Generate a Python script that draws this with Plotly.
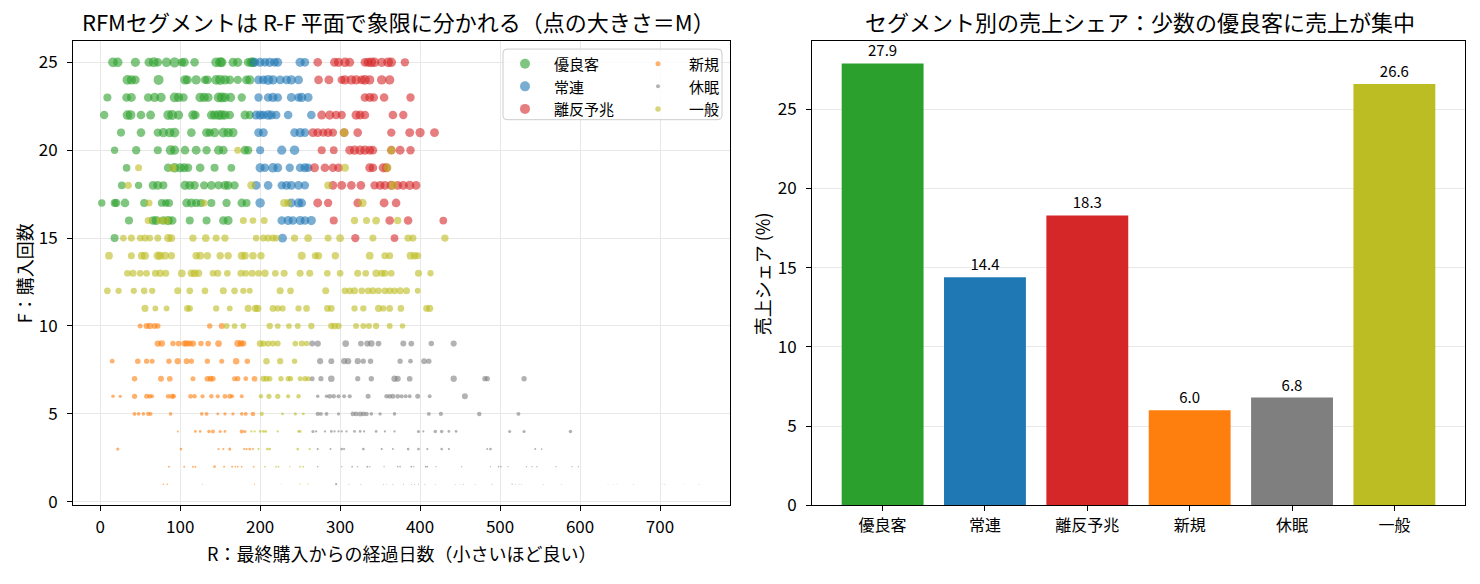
import plotly.graph_objects as go

W, H = 1480, 584
FONT = "Noto Sans CJK JP"

# ---------------- data ----------------
segments = ["優良客", "常連", "離反予兆", "新規", "休眠", "一般"]
seg_colors = ["#2ca02c", "#1f77b4", "#d62728", "#ff7f0e", "#7f7f7f", "#bcbd22"]
sales_share = [27.9, 14.4, 18.3, 6.0, 6.8, 26.6]   # 売上シェア (%)

x_ticks = [0, 100, 200, 300, 400, 500, 600, 700]
y_ticks = [0, 5, 10, 15, 20, 25]
bar_y_ticks = [0, 5, 10, 15, 20, 25]

# R (days since last purchase) by F (purchase count); M = sales (千円)
yuryo_R = {
    25: [16, 22, 44, 61, 67, 72, 83, 93, 102, 105, 118, 145, 150, 152, 166, 172, 185, 189, 191],
    24: [34, 39, 44, 73, 106, 109, 120, 131, 134, 145, 150, 156, 162, 172, 183, 187],
    23: [9, 33, 39, 60, 68, 76, 93, 98, 104, 125, 130, 135, 148, 152, 156, 163, 177],
    22: [5, 34, 38, 51, 63, 85, 90, 98, 116, 119, 139, 143, 148, 152, 156, 162, 181, 187],
    21: [26, 51, 72, 79, 87, 93, 114, 133, 137, 143, 154, 160, 166],
    20: [18, 45, 72, 88, 93, 106, 120, 133, 148, 154, 181, 185],
    19: [33, 85, 93, 100, 105, 110, 125, 143, 164],
    18: [27, 48, 66, 72, 79, 106, 112, 118, 130, 139, 148, 156, 160, 168],
    17: [2, 18, 20, 31, 55, 77, 82, 86, 108, 114, 120, 126, 139, 158, 177, 183],
    16: [36, 66, 70, 79, 85, 90, 112, 133, 154, 160],
    15: [18],
}
yuryo_M = {
    25: [380, 360, 340, 320, 400, 300, 360, 420, 280, 340, 300, 380, 400, 360, 320, 340, 300, 380, 360],
    24: [380, 340, 300, 400, 360, 320, 340, 280, 320, 380, 400, 360, 300, 280, 320, 340],
    23: [260, 300, 320, 300, 340, 360, 380, 340, 300, 360, 340, 320, 380, 400, 360, 340, 280],
    22: [280, 360, 380, 300, 320, 380, 400, 340, 360, 300, 320, 340, 380, 360, 340, 300, 320, 280],
    21: [260, 300, 280, 340, 360, 380, 300, 320, 280, 340, 380, 360, 340],
    20: [220, 280, 260, 380, 340, 300, 320, 280, 340, 300, 300, 280],
    19: [240, 300, 360, 340, 320, 280, 300, 260, 240],
    18: [240, 220, 300, 320, 260, 340, 320, 300, 280, 300, 260, 320, 300, 280],
    17: [220, 240, 280, 300, 260, 240, 220, 260, 300, 320, 280, 260, 260, 280, 300, 260],
    16: [260, 300, 320, 300, 340, 300, 260, 260, 300, 320],
    15: [260],
}

joren_R = {
    25: [193, 200, 206, 212, 218, 222, 250, 256],
    24: [198, 204, 210, 216, 225, 233, 239, 248],
    23: [198, 210, 216, 222, 239, 248, 252, 260],
    22: [195, 200, 204, 210, 214, 220, 235, 264],
    21: [198, 204, 243, 250, 256],
    20: [200, 227, 243],
    19: [200, 206, 216, 222, 237, 250, 256, 260],
    18: [195, 210, 227, 233, 239, 248, 256],
    17: [200, 239, 248, 252],
    16: [227, 235, 241, 250, 256, 264],
    15: [228],
}
joren_M = {
    25: [340, 320, 300, 340, 300, 320, 340, 300],
    24: [300, 320, 400, 340, 320, 300, 340, 320],
    23: [280, 300, 340, 300, 320, 300, 340, 320],
    22: [320, 340, 300, 360, 320, 300, 300, 300],
    21: [300, 320, 300, 340, 300],
    20: [260, 340, 360],
    19: [340, 300, 360, 320, 280, 300, 320, 300],
    18: [320, 300, 280, 300, 320, 300, 280],
    17: [360, 320, 340, 300],
    16: [300, 320, 300, 320, 300, 340],
    15: [320],
}

rihan_R = {
    25: [272, 293, 298, 306, 312, 331, 335, 339, 343, 352, 360, 364, 381],
    24: [273, 286, 302, 306, 314, 320, 327, 331, 337, 352, 362],
    23: [331, 337, 342, 355, 388],
    22: [277, 287, 295, 302, 320, 325, 331, 366, 379],
    21: [266, 272, 279, 285, 291, 305, 322, 364, 387, 400, 418],
    20: [277, 292, 312, 318, 325, 331, 337, 341, 364, 375, 388],
    19: [268, 281, 291, 298, 337, 341, 354, 358],
    18: [291, 302, 314, 326, 343, 350, 356, 364, 372, 379, 387, 395],
    17: [272, 285, 322, 355, 370],
    16: [292, 362, 385, 429],
    15: [319, 368],
}
rihan_M = {
    25: [300, 320, 340, 360, 320, 300, 340, 380, 360, 340, 380, 360, 280],
    24: [300, 320, 280, 340, 360, 340, 320, 380, 340, 360, 340],
    23: [300, 320, 300, 300, 280],
    22: [320, 340, 300, 280, 340, 320, 300, 300, 280],
    21: [320, 300, 280, 300, 280, 320, 300, 280, 320, 340, 320],
    20: [260, 240, 320, 340, 360, 340, 320, 300, 300, 320, 280],
    19: [320, 300, 280, 300, 320, 300, 340, 320],
    18: [300, 320, 300, 300, 280, 300, 320, 340, 300, 320, 340, 300],
    17: [320, 280, 300, 320, 300],
    16: [260, 300, 300, 240],
    15: [280, 240],
}

shinki_R = {
    10: [50, 58, 62, 68, 72, 137, 152],
    9: [72, 77, 91, 98, 105, 108, 112, 116, 126, 135, 148, 172, 176, 179],
    8: [15, 47, 58, 65, 86, 97, 108, 114, 134, 152, 170, 184],
    7: [43, 76, 87, 116, 134, 138, 141, 168, 172, 182, 193],
    6: [16, 25, 43, 58, 62, 65, 85, 90, 92, 113, 118, 128, 139, 147, 156, 162, 165, 177],
    5: [43, 48, 54, 60, 63, 88, 127, 133, 147, 156, 166, 177, 182, 191],
    4: [97, 119, 125, 136, 141, 150, 156, 177, 181],
    3: [22, 101, 148, 154, 162, 180, 183, 187, 191],
    2: [86, 105, 116, 119, 143, 155, 165, 169, 172, 177, 192],
    1: [79, 84, 128, 193],
}
shinki_M = {
    10: [100, 150, 160, 140, 120, 120, 150],
    9: [160, 170, 120, 130, 140, 170, 150, 160, 120, 130, 180, 190, 170, 140],
    8: [90, 120, 110, 100, 120, 160, 130, 110, 110, 100, 170, 120],
    7: [120, 140, 130, 100, 130, 140, 120, 100, 110, 90, 130],
    6: [50, 40, 110, 100, 90, 60, 90, 110, 80, 90, 80, 70, 80, 70, 90, 100, 60, 60],
    5: [60, 50, 50, 70, 60, 50, 50, 60, 30, 40, 40, 50, 60, 80],
    4: [16, 30, 30, 50, 60, 40, 30, 70, 40],
    3: [40, 30, 20, 20, 40, 20, 20, 30, 20],
    2: [16, 16, 16, 16, 30, 16, 16, 12, 12, 12, 12],
    1: [10, 10, 4, 6],
}

kyumin_R = {
    9: [265, 272, 307, 326, 334, 339, 348, 379, 389, 414, 442],
    8: [275, 289, 305, 310, 322, 329, 338, 375, 388, 405, 411],
    7: [265, 276, 289, 322, 339, 368, 372, 387, 442, 481, 484, 530],
    6: [272, 283, 287, 292, 298, 305, 312, 335, 358, 362, 366, 372, 377, 382, 387, 397, 412, 456],
    5: [272, 276, 283, 298, 316, 320, 325, 329, 333, 339, 350, 368, 411, 426, 474, 523],
    4: [266, 270, 281, 289, 293, 298, 302, 308, 318, 325, 330, 345, 356, 368, 398, 404, 419, 427,
        436, 445, 512, 530, 588],
    3: [272, 288, 302, 305, 329, 352, 366, 385, 398, 409, 427, 436, 484, 488, 544, 552],
    2: [272, 302, 315, 322, 334, 337, 355, 372, 375, 389, 392, 407, 409, 420, 452, 488, 498, 501,
        510, 533, 540, 546, 570, 590, 598],
    1: [295, 311, 326, 354, 358, 366, 379, 389, 393, 398, 406, 419, 444, 450, 454, 469, 490, 515,
        519, 524, 527, 554, 577, 635, 642, 647, 667, 703, 706, 730, 749],
}
kyumin_M = {
    9: [140, 160, 180, 130, 150, 170, 130, 140, 130, 120, 150],
    8: [150, 140, 150, 160, 150, 110, 120, 110, 90, 140, 110],
    7: [100, 110, 170, 110, 120, 160, 150, 130, 160, 110, 110, 120],
    6: [50, 50, 90, 80, 70, 60, 70, 100, 80, 90, 100, 90, 70, 60, 60, 100, 60, 140],
    5: [70, 60, 60, 40, 90, 90, 100, 90, 80, 50, 40, 50, 60, 70, 80, 60],
    4: [40, 20, 20, 30, 20, 20, 20, 20, 30, 30, 20, 30, 20, 20, 40, 20, 50, 50,
        30, 30, 40, 40, 50],
    3: [20, 16, 30, 20, 30, 20, 16, 30, 30, 20, 30, 20, 16, 30, 16, 12],
    2: [10, 8, 12, 8, 16, 8, 8, 10, 10, 12, 8, 12, 12, 8, 8, 6, 10, 10,
        6, 8, 8, 8, 8, 8, 6],
    1: [20, 4, 4, 4, 3, 4, 4, 4, 4, 4, 4, 3, 3, 3, 4, 3, 4, 6,
        3, 3, 3, 3, 3, 2, 2, 2, 3, 2, 3, 2, 3],
}

ippan_R = {
    21: [305],
    20: [172, 364],
    19: [48, 91, 306, 359],
    18: [35, 189, 285, 366],
    17: [61, 130, 230, 235, 328],
    16: [60, 75, 83, 179, 191, 205, 318, 333, 345, 372],
    15: [29, 39, 50, 56, 62, 72, 85, 89, 116, 132, 145, 156, 195, 204, 210, 216, 220, 243, 260,
         285, 300, 341, 385, 391, 431],
    14: [11, 39, 52, 56, 72, 75, 81, 89, 120, 125, 134, 150, 160, 177, 181, 191, 201, 252, 269,
         273, 294, 337, 356, 362, 388, 393, 397],
    13: [34, 41, 50, 58, 69, 75, 82, 102, 114, 118, 123, 141, 147, 159, 176, 182, 190, 198, 206,
         219, 230, 250, 262, 284, 300, 322, 332, 345, 352, 356, 364, 398, 413],
    12: [9, 23, 42, 55, 65, 97, 112, 131, 154, 168, 179, 187, 225, 238, 282, 306, 312, 318, 327,
         335, 341, 348, 356, 362, 368, 375, 383, 397],
    11: [56, 69, 83, 109, 112, 145, 162, 185, 194, 197, 216, 222, 228, 248, 258, 284, 289, 318,
         329, 348, 354, 362, 376, 408, 412],
    10: [158, 168, 179, 212, 222, 236, 247, 264, 289, 293, 298, 320, 329, 336, 345, 362, 378],
    9: [200, 204, 210, 216, 222, 244, 252, 258],
    8: [208, 225, 243],
    7: [204, 208, 212, 226, 235, 238, 250, 256, 260],
    6: [201, 211, 222, 235, 248],
    5: [202, 228, 244, 254],
    4: [189, 193, 200, 204, 207, 222, 248, 250],
    3: [198, 209, 212, 247, 262],
    2: [206, 220, 223, 237, 250, 254],
    1: [226, 250, 260],
}
ippan_M = {
    21: [300],
    20: [200, 260],
    19: [200, 240, 260, 280],
    18: [220, 260, 240, 300],
    17: [200, 200, 260, 240, 280],
    16: [200, 220, 240, 200, 180, 200, 220, 200, 240, 220],
    15: [180, 200, 180, 200, 180, 200, 260, 240, 220, 240, 200, 220, 180, 200, 200, 200, 180, 220,
         240, 200, 240, 200, 220, 200, 220],
    14: [240, 200, 240, 260, 280, 260, 240, 220, 220, 240, 220, 220, 220, 260, 240, 220, 220, 260,
         200, 220, 220, 240, 200, 200, 240, 220, 200],
    13: [180, 200, 180, 180, 200, 220, 200, 240, 220, 240, 220, 180, 200, 180, 200, 180, 200, 180,
         220, 180, 200, 200, 200, 180, 180, 200, 180, 220, 200, 200, 180, 200, 160],
    12: [180, 160, 160, 180, 160, 200, 180, 180, 200, 180, 160, 140, 200, 180, 200, 180, 180, 200,
         180, 180, 200, 180, 180, 180, 180, 200, 200, 140],
    11: [200, 140, 140, 180, 160, 160, 140, 200, 200, 220, 180, 160, 160, 160, 180, 180, 180, 160,
         160, 200, 160, 180, 180, 180, 200],
    10: [140, 130, 140, 160, 130, 130, 140, 160, 160, 180, 160, 140, 140, 150, 160, 140, 120],
    9: [180, 160, 160, 150, 140, 130, 140, 120],
    8: [170, 160, 120],
    7: [150, 140, 120, 120, 110, 110, 100, 110, 100],
    6: [80, 110, 110, 70, 80],
    5: [70, 30, 40, 30],
    4: [20, 20, 30, 30, 30, 20, 30, 30],
    3: [20, 30, 30, 30, 20],
    2: [12, 12, 12, 8, 12, 12],
    1: [3, 6, 6],
}

seg_R = [yuryo_R, joren_R, rihan_R, shinki_R, kyumin_R, ippan_R]
seg_M = [yuryo_M, joren_M, rihan_M, shinki_M, kyumin_M, ippan_M]

# ---------------- layout helpers ----------------
def X(px):
    return px / W

def Y(py):
    return 1 - py / H

L1, R1 = 73, 730
L2, R2 = 812, 1465
TOP, BOT = 42, 515

fig = go.Figure()

for name, color, rd, md in zip(segments, seg_colors, seg_R, seg_M):
    xs, ys, ms = [], [], []
    for f in rd:
        for r, m in zip(rd[f], md[f]):
            xs.append(r)
            ys.append(f)
            ms.append(m)
    fig.add_trace(go.Scatter(
        x=xs, y=ys, mode="markers", name=name, showlegend=False,
        marker=dict(color=color, opacity=0.6, size=[m ** 0.5 / 2 for m in ms],
                    line=dict(width=0)),
        xaxis="x", yaxis="y", customdata=ms,
    ))

fig.add_trace(go.Bar(
    x=segments, y=sales_share, marker=dict(color=seg_colors, line=dict(width=0)),
    width=0.8, text=[f"{v:.1f}" for v in sales_share], textposition="outside",
    textfont=dict(size=15, color="#000000", family=FONT), cliponaxis=False,
    showlegend=False, xaxis="x2", yaxis="y2",
))

axis_common = dict(
    showline=True, linecolor="#000000", linewidth=1, mirror=True,
    ticks="outside", ticklen=5, tickwidth=1, tickcolor="#000000",
    tickfont=dict(size=17, color="#000000", family=FONT), zeroline=False,
)

fig.update_layout(
    width=W, height=H, autosize=False, margin=dict(l=0, r=0, t=0, b=0),
    paper_bgcolor="white", plot_bgcolor="white",
    font=dict(family=FONT, color="#000000"),
    xaxis=dict(domain=[X(L1), X(R1)], range=[-34, 787.5], tickvals=x_ticks,
               showgrid=True, gridcolor="#e8e8e8", gridwidth=1, anchor="y",
               ticklabelstandoff=1, **axis_common),
    yaxis=dict(domain=[Y(BOT), Y(TOP)], range=[-0.2, 26.2], tickvals=y_ticks,
               showgrid=True, gridcolor="#e8e8e8", gridwidth=1, anchor="x",
               ticklabelstandoff=6, **axis_common),
    xaxis2=dict(domain=[X(L2), X(R2)], range=[-0.69, 5.69], type="category",
                showgrid=False, anchor="y2", ticklabelstandoff=1,
                **{**axis_common, "tickfont": dict(size=16, color="#000000", family=FONT)}),
    yaxis2=dict(domain=[Y(BOT), Y(TOP)], range=[0, 29.3], tickvals=bar_y_ticks,
                showgrid=True, gridcolor="#e8e8e8", gridwidth=1, anchor="x2",
                ticklabelstandoff=6, **axis_common),
    bargap=0.2,
)

ann = []
# titles
ann.append(dict(text="RFMセグメントは R-F 平面で象限に分かれる（点の大きさ＝M）",
                x=X((L1 + R1) / 2 - 3), y=Y(21), xref="paper", yref="paper",
                showarrow=False, font=dict(size=22, family=FONT, color="#000000"),
                xanchor="center", yanchor="middle"))
ann.append(dict(text="セグメント別の売上シェア：少数の優良客に売上が集中",
                x=X((L2 + R2) / 2 + 1), y=Y(21), xref="paper", yref="paper",
                showarrow=False, font=dict(size=22, family=FONT, color="#000000"),
                xanchor="center", yanchor="middle"))
# axis titles
ann.append(dict(text="R：最終購入からの経過日数（小さいほど良い）",
                x=X((L1 + R1) / 2), y=Y(564), xref="paper", yref="paper",
                showarrow=False, font=dict(size=18, family=FONT, color="#000000"),
                xanchor="center", yanchor="middle"))
ann.append(dict(text="F：購入回数", textangle=-90,
                x=X(24), y=Y((TOP + BOT) / 2), xref="paper", yref="paper",
                showarrow=False, font=dict(size=18, family=FONT, color="#000000"),
                xanchor="center", yanchor="middle"))
ann.append(dict(text="売上シェア (%)", textangle=-90,
                x=X(762), y=Y((TOP + BOT) / 2), xref="paper", yref="paper",
                showarrow=False, font=dict(size=18, family=FONT, color="#000000"),
                xanchor="center", yanchor="middle"))

# manual legend
shapes = []
bx0, bx1, by0, by1, rr = 503, 722, 50, 122, 4
path = (f"M {X(bx0 + rr)},{Y(by0)} L {X(bx1 - rr)},{Y(by0)} Q {X(bx1)},{Y(by0)} {X(bx1)},{Y(by0 + rr)} "
        f"L {X(bx1)},{Y(by1 - rr)} Q {X(bx1)},{Y(by1)} {X(bx1 - rr)},{Y(by1)} "
        f"L {X(bx0 + rr)},{Y(by1)} Q {X(bx0)},{Y(by1)} {X(bx0)},{Y(by1 - rr)} "
        f"L {X(bx0)},{Y(by0 + rr)} Q {X(bx0)},{Y(by0)} {X(bx0 + rr)},{Y(by0)} Z")
shapes.append(dict(type="path", path=path, xref="paper", yref="paper",
                   fillcolor="rgba(255,255,255,0.8)", line=dict(color="#cccccc", width=1),
                   layer="above"))
leg_marker_x = [525, 658]
leg_text_x = [552, 687]
leg_rows = [65, 88, 111]
leg_sizes = [10, 10, 10, 5, 4, 5.5]
for i, (name, color) in enumerate(zip(segments, seg_colors)):
    col, row = i // 3, i % 3
    r = leg_sizes[i] / 2
    shapes.append(dict(type="circle", xref="paper", yref="paper",
                       xsizemode="pixel", ysizemode="pixel",
                       xanchor=X(leg_marker_x[col]), yanchor=Y(leg_rows[row]),
                       x0=-r, x1=r, y0=-r, y1=r,
                       fillcolor=color, opacity=0.6, line=dict(width=0), layer="above"))
    ann.append(dict(text=name, x=X(leg_text_x[col]), y=Y(leg_rows[row]),
                    xref="paper", yref="paper", showarrow=False,
                    font=dict(size=15, family=FONT, color="#000000"),
                    xanchor="left", yanchor="middle"))

fig.update_layout(annotations=ann, shapes=shapes)

fig.write_html("out.html", config={"displayModeBar": False, "responsive": False},
               post_script="document.body.style.margin='0';document.body.style.overflow='hidden';")
